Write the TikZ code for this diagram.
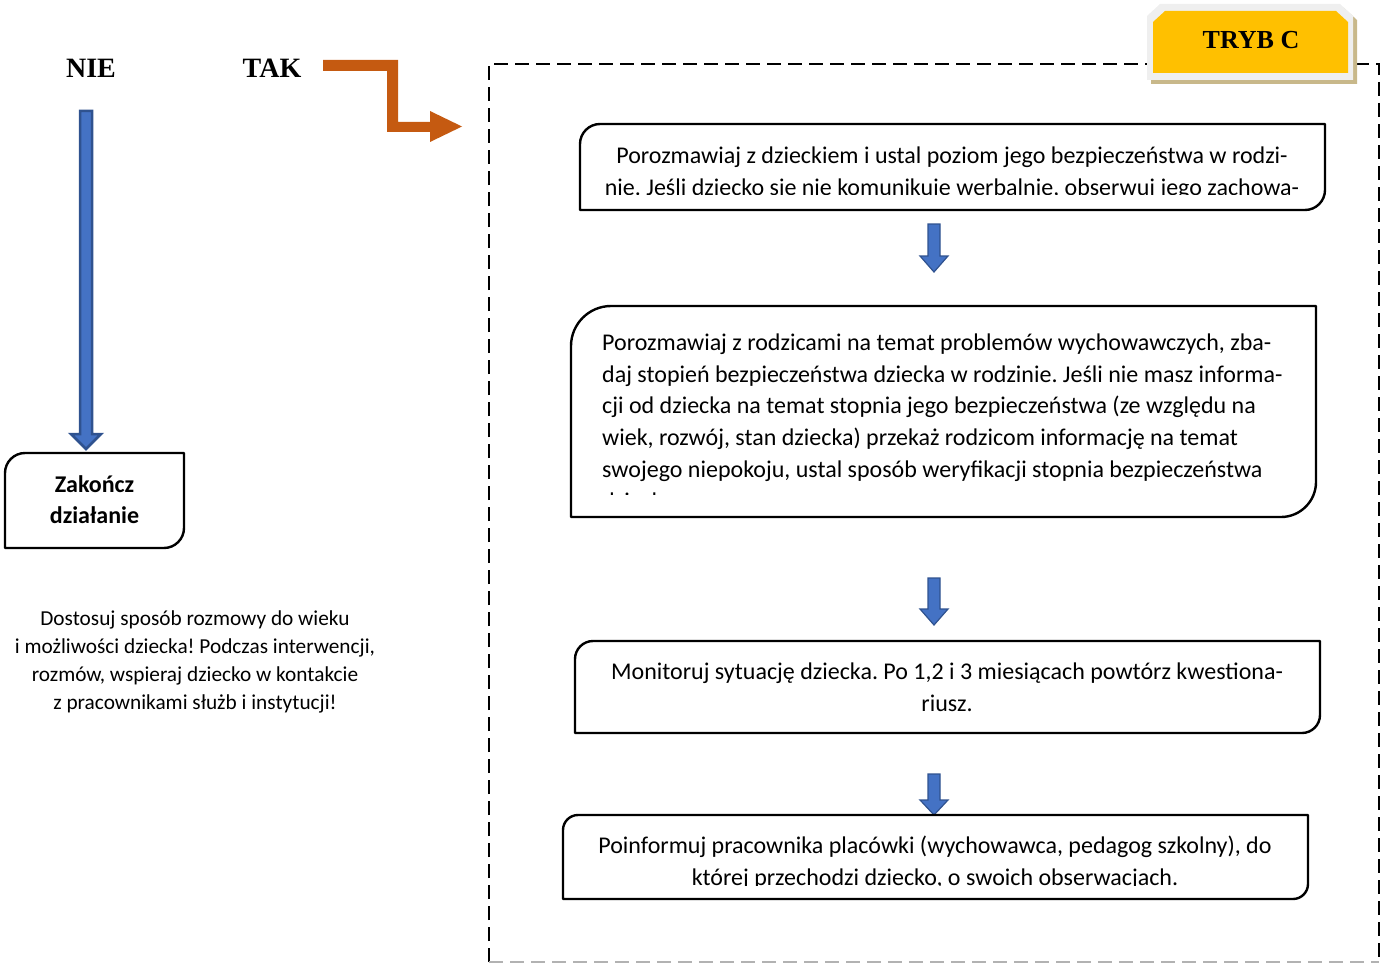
\documentclass[tikz,border=0pt]{standalone}
\usepackage{fontspec}
\setmainfont{Carlito}
\newfontfamily\timesfont{Liberation Serif}
\usepackage{tikz}
\frenchspacing

\definecolor{arrowblue}{HTML}{4472C4}
\definecolor{arrowedge}{HTML}{2F528F}
\definecolor{takorange}{HTML}{C55A11}
\definecolor{trybgold}{HTML}{FFC000}
\definecolor{trybshadow}{HTML}{C8B88A}
\definecolor{trybrim}{HTML}{EFEFEF}

\tikzset{
  boxline/.style={line width=2.4pt, line join=round},
  boxtext/.style={inner sep=0pt, font=\fontsize{24}{31.7}\selectfont},
  blkarrow/.style={fill=arrowblue, draw=arrowedge, line width=1.2pt, line join=miter},
  frameline/.style={line width=2pt, dash pattern=on 14pt off 7pt},
  headtext/.style={inner sep=0pt, font=\timesfont\bfseries\fontsize{28}{30}\selectfont}
}

% box with round top-left and bottom-right corners: x1 y1 x2 y2 r1 r2
\newcommand{\flowbox}[6]{%
  \draw[boxline] (#1,#4) -- (#1,#2+#5)
    .. controls (#1,#2+0.45*#5) and (#1+0.45*#5,#2) .. (#1+#5,#2)
    -- (#3,#2) -- (#3,#4-#6)
    .. controls (#3,#4-0.45*#6) and (#3-0.45*#6,#4) .. (#3-#6,#4) -- cycle;}

% small block arrow pointing down: x, top, head start, tip
\newcommand{\downblk}[4]{%
  \draw[blkarrow] (#1-6,#2) -- (#1+6,#2) -- (#1+6,#3) -- (#1+14,#3)
    -- (#1,#4) -- (#1-14,#3) -- (#1-6,#3) -- cycle;}

\begin{document}
\begin{tikzpicture}[x=1pt,y=-1pt]
\useasboundingbox (0,0) rectangle (1389,963);

% dashed frame
\draw[frameline] (489,962) -- (489,64) -- (1379,64) -- (1379,962);
\draw[frameline, black!30] (489,962) -- (1379,962);

% TRYB C label
\fill[trybshadow] (1151,84) -- (1151,20) -- (1164,8) -- (1344,8) -- (1357,20) -- (1357,84) -- cycle;
\fill[trybrim] (1147,80) -- (1147,16) -- (1160,4) -- (1340,4) -- (1353,16) -- (1353,80) -- cycle;
\fill[trybgold] (1153,73) -- (1153,22) -- (1165,11) -- (1336,11) -- (1348,22) -- (1348,73) -- cycle;
\node[inner sep=0pt, anchor=base, font=\timesfont\bfseries\fontsize{26}{28}\selectfont] (tryb) at (1251,49) {TRYB C};

% NIE / TAK
\node[headtext, anchor=base] (nie) at (91,78) {NIE};
\node[headtext, anchor=base] (tak) at (272,78) {TAK};

\draw[blkarrow, line width=2.5pt] (80,111) -- (92,111) -- (92,434) -- (101,434)
  -- (86,449) -- (71,434) -- (80,434) -- cycle;

\fill[takorange] (323,60) -- (398,60) -- (398,122) -- (430,122) -- (430,111)
  -- (462,126.5) -- (430,142) -- (430,132) -- (387,132) -- (387,71) -- (323,71) -- cycle;

% left column (base = last line)
\flowbox{5}{453}{184}{548}{20}{20}
\node[boxtext, anchor=base, align=center, font=\bfseries\fontsize{24}{31}\selectfont] (stop) at (94.5,523)
  {Zakończ\\działanie};

\node[inner sep=0pt, anchor=base, align=center, font=\fontsize{21.3}{28}\selectfont] (hint) at (195,709)
  {Dostosuj sposób rozmowy do wieku\\
   i możliwości dziecka! Podczas interwencji,\\
   rozmów, wspieraj dziecko w kontakcie\\
   z pracownikami służb i instytucji!};

% step 1
\flowbox{580}{124}{1325}{210}{20}{20}
\begin{scope}
\clip (580,124) rectangle (1325,194);
\node[boxtext, anchor=base, align=center] (talk) at (952,227)
  {Porozmawiaj z dzieckiem i ustal poziom jego bezpieczeństwa w rodzi-\\
   nie. Jeśli dziecko się nie komunikuje werbalnie, obserwuj jego zachowa-\\
   nie.};
\end{scope}

\downblk{934}{224}{256}{272}

% step 2
\flowbox{571}{306}{1316}{517}{40}{35}
\begin{scope}
\clip (571,306) rectangle (1316,494);
\node[boxtext, anchor=base west, align=left] (parents) at (602,509)
  {Porozmawiaj z rodzicami na temat problemów wychowawczych, zba-\\
   daj stopień bezpieczeństwa dziecka w rodzinie. Jeśli nie masz informa-\\
   cji od dziecka na temat stopnia jego bezpieczeństwa (ze względu na\\
   wiek, rozwój, stan dziecka) przekaż rodzicom informację na temat\\
   swojego niepokoju, ustal sposób weryfikacji stopnia bezpieczeństwa\\
   dziecka.};
\end{scope}

\downblk{934}{578}{609}{625}

% step 3
\flowbox{575}{641}{1320}{733}{18}{18}
\node[boxtext, anchor=base, align=center] (watch) at (947,711)
  {Monitoruj sytuację dziecka. Po 1,2 i 3 miesiącach powtórz kwestiona-\\
   riusz.};

\downblk{934}{774}{800}{815}

% step 4
\flowbox{563}{815}{1308}{899}{15}{15}
\begin{scope}
\clip (563,815) rectangle (1308,885);
\node[boxtext, anchor=base, align=center] (inform) at (935,885)
  {Poinformuj pracownika placówki (wychowawca, pedagog szkolny), do\\
   której przechodzi dziecko, o swoich obserwacjach.};
\end{scope}

\end{tikzpicture}
\end{document}
